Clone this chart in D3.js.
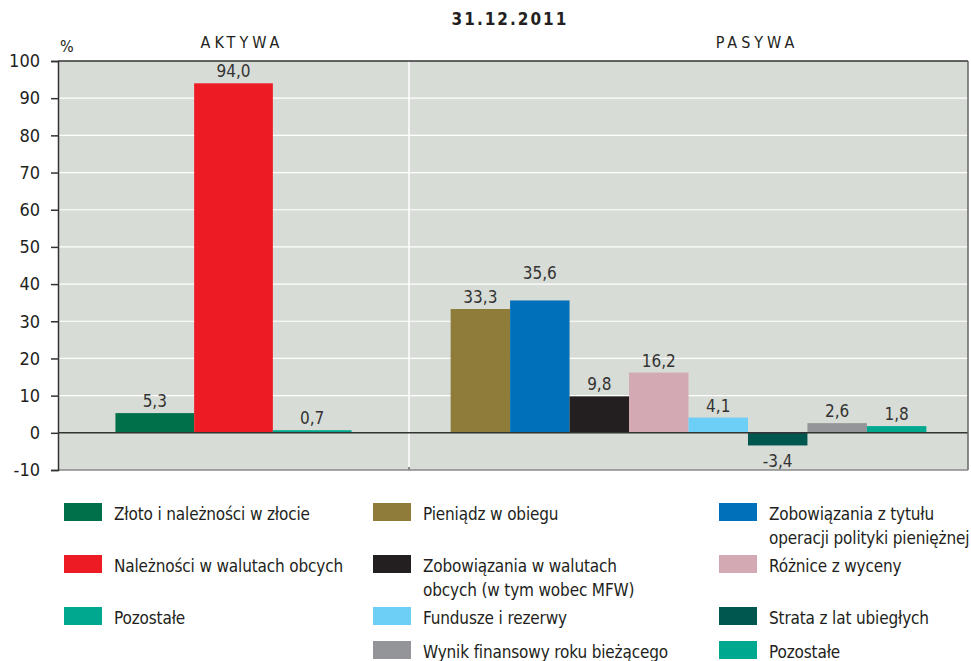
<!DOCTYPE html>
<html>
<head>
<meta charset="utf-8">
<script src="https://cdn.jsdelivr.net/npm/d3@7"></script>
<style>
  body { margin: 0; background: #fff; }
  svg text { font-family: "Liberation Sans Narrow", "DejaVu Sans Condensed", "Open Sans", sans-serif; fill: #231f20; }
</style>
</head>
<body>
<script>
// data
var aktywaNames = ["Złoto i należności w złocie", "Należności w walutach obcych", "Pozostałe"];
var aktywaValues = [5.3, 94.0, 0.7];
var aktywaColors = ["#00704a", "#ed1c24", "#00a88f"];

var pasywaNames = ["Pieniądz w obiegu", "Zobowiązania z tytułu|operacji polityki pieniężnej",
  "Zobowiązania w walutach|obcych (w tym wobec MFW)", "Różnice z wyceny", "Fundusze i rezerwy",
  "Strata z lat ubiegłych", "Wynik finansowy roku bieżącego", "Pozostałe"];
var pasywaValues = [33.3, 35.6, 9.8, 16.2, 4.1, -3.4, 2.6, 1.8];
var pasywaColors = ["#8f7c3a", "#0070bb", "#231f20", "#d3a9b3", "#6dcff6", "#00574f", "#939598", "#00a88f"];

var yTicks = [-10, 0, 10, 20, 30, 40, 50, 60, 70, 80, 90, 100];

(function () {

  var width = 971, height = 661;
  var pLeft = 58, pRight = 968, pTop = 61, pBottom = 470, split = 409;

  // polish number format: comma decimal, plain hyphen as minus
  var pl = d3.formatLocale({decimal: ",", thousands: " ", grouping: [3], currency: ["", " zł"], minus: "-"});
  var fmtVal = pl.format(".1f");
  var fmtTick = pl.format("d");

  var svg = d3.select("body").append("svg")
    .attr("width", width)
    .attr("height", height);

  var y = d3.scaleLinear().domain([-10, 100]).range([pBottom, pTop]);

  var xA = d3.scaleBand().domain(d3.range(aktywaValues.length))
    .range([pLeft, split]).paddingInner(0).paddingOuter(0.73);
  var xP = d3.scaleBand().domain(d3.range(pasywaValues.length))
    .range([split, pRight]).paddingInner(0).paddingOuter(0.7);

  // plot background
  svg.append("rect")
    .attr("x", pLeft).attr("y", pTop)
    .attr("width", pRight - pLeft).attr("height", pBottom - pTop)
    .attr("fill", "#d8dcd6");

  // grid
  svg.append("g").selectAll("line")
    .data(yTicks.filter(function(d) { return d > -10 && d < 100 && d !== 0; }))
    .enter().append("line")
    .attr("x1", pLeft).attr("x2", pRight)
    .attr("y1", function(d) { return y(d); }).attr("y2", function(d) { return y(d); })
    .attr("stroke", "#fff").attr("stroke-width", 1.2);

  svg.append("line")
    .attr("x1", split).attr("x2", split).attr("y1", pTop).attr("y2", pBottom)
    .attr("stroke", "#fff").attr("stroke-width", 1.5);
  svg.append("line")
    .attr("x1", split).attr("x2", split).attr("y1", pBottom - 3).attr("y2", pBottom)
    .attr("stroke", "#888").attr("stroke-width", 2);

  // bars + value labels
  function drawBars(values, colors, x, lift) {
    var g = svg.append("g");
    g.selectAll("rect")
      .data(values)
      .enter().append("rect")
      .attr("x", function(d, i) { return x(i); })
      .attr("width", x.bandwidth())
      .attr("y", function(d) { return y(Math.max(0, d)); })
      .attr("height", function(d) { return Math.abs(y(d) - y(0)); })
      .attr("fill", function(d, i) { return colors[i]; });

    g.selectAll("text")
      .data(values)
      .enter().append("text")
      .attr("x", function(d, i) { return x(i) + x.bandwidth() / 2; })
      .attr("y", function(d, i) {
        if (d < 0) return y(d) + 22;
        return y(d) - 6 - (lift[i] || 0);
      })
      .attr("text-anchor", "middle")
      .style("font-size", "17px")
      .style("fill", "#333")
      .text(function(d) { return fmtVal(d); });
  }
  drawBars(aktywaValues, aktywaColors, xA, {});
  drawBars(pasywaValues, pasywaColors, xP, {1: 15});

  // zero line
  svg.append("line")
    .attr("x1", pLeft).attr("x2", pRight).attr("y1", y(0)).attr("y2", y(0))
    .attr("stroke", "#333").attr("stroke-width", 1.5);

  // frame
  svg.append("line").attr("x1", pLeft).attr("x2", pRight).attr("y1", pTop).attr("y2", pTop)
    .attr("stroke", "#333").attr("stroke-width", 1.5);
  svg.append("line").attr("x1", pRight).attr("x2", pRight).attr("y1", pTop).attr("y2", pBottom)
    .attr("stroke", "#666").attr("stroke-width", 1.5);
  svg.append("line").attr("x1", pLeft).attr("x2", pRight).attr("y1", pBottom).attr("y2", pBottom)
    .attr("stroke", "#888").attr("stroke-width", 1.5);

  // y axis
  var yAxis = d3.axisLeft(y).tickValues(yTicks).tickFormat(fmtTick).tickSize(7).tickPadding(11);
  var ax = svg.append("g").attr("transform", "translate(" + pLeft + ",0)").call(yAxis);
  ax.select(".domain").attr("stroke", "#333").attr("stroke-width", 1.5);
  ax.selectAll(".tick line").attr("stroke", "#333").attr("stroke-width", 1.5);
  ax.selectAll(".tick text").style("font-size", "18px").style("fill", "#231f20");

  // titles
  svg.append("text").attr("x", 510).attr("y", 25).attr("text-anchor", "middle")
    .style("font-size", "17px").style("font-weight", "bold").style("letter-spacing", "2px")
    .text("31.12.2011");
  svg.append("text").attr("x", 242).attr("y", 48).attr("text-anchor", "middle")
    .style("font-size", "16px").style("letter-spacing", "4px").text("AKTYWA");
  svg.append("text").attr("x", 757).attr("y", 48).attr("text-anchor", "middle")
    .style("font-size", "16px").style("letter-spacing", "4px").text("PASYWA");
  svg.append("text").attr("x", 60).attr("y", 52)
    .style("font-size", "16px").text("%");

  // legend
  var legendItems = [];
  aktywaNames.forEach(function(n, i) {
    legendItems.push({name: n, color: aktywaColors[i], col: 0, row: i});
  });
  pasywaNames.forEach(function(n, i) {
    legendItems.push({name: n, color: pasywaColors[i], col: 1 + (i % 2), row: Math.floor(i / 2)});
  });

  var colX = [64, 373, 719];
  var rowY = [503, 555, 607, 641];

  var leg = svg.append("g").selectAll("g")
    .data(legendItems)
    .enter().append("g")
    .attr("transform", function(d) { return "translate(" + colX[d.col] + "," + rowY[d.row] + ")"; });

  leg.append("rect")
    .attr("width", 38).attr("height", 18)
    .attr("fill", function(d) { return d.color; });

  leg.append("text")
    .attr("x", 50)
    .attr("y", 17)
    .style("font-size", "17px")
    .style("letter-spacing", "-0.15px")
    .each(function(d) {
      var t = d3.select(this);
      d.name.split("|").forEach(function(line, k) {
        t.append("tspan").attr("x", 50).attr("dy", k === 0 ? 0 : 24).text(line);
      });
    });

})();
</script>
</body>
</html>
